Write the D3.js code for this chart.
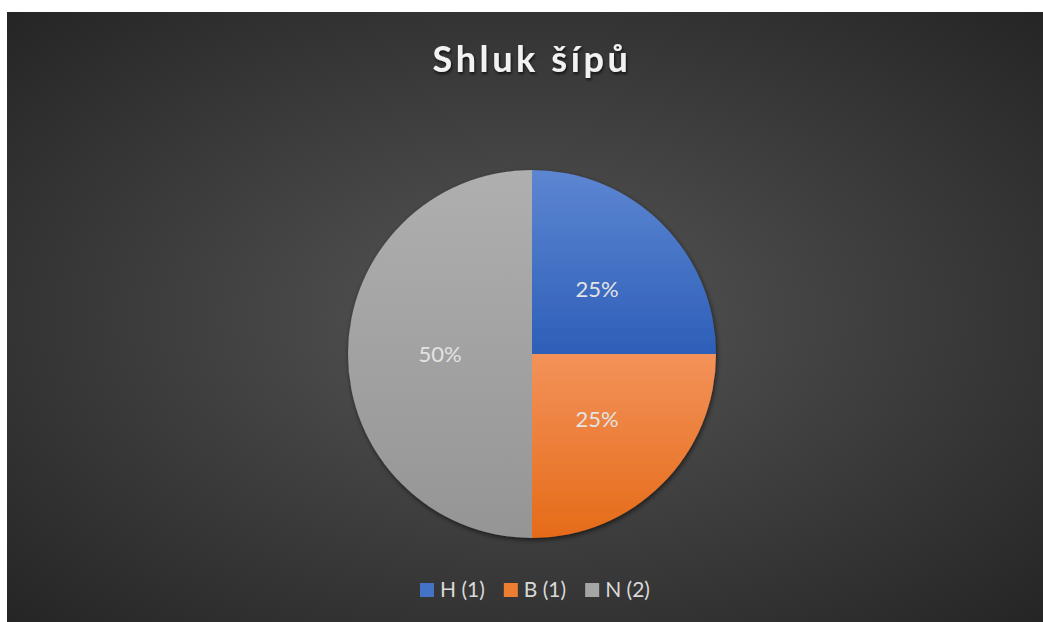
<!DOCTYPE html>
<html>
<head>
<meta charset="utf-8">
<script src="https://cdn.jsdelivr.net/npm/d3@7"></script>
<style>
  html, body { margin: 0; padding: 0; background: #fff; }
  svg { display: block; }
</style>
</head>
<body>
<div id="chart"></div>
<script>
// data
var categories = ['H', 'B', 'N'];
var counts = [1, 1, 2];
var legendLabels = ['H (1)', 'B (1)', 'N (2)'];
var chartTitle = 'Shluk šípů';

var width = 1043, height = 622;
var frame = {x: 7, y: 12, w: 1036, h: 610};
var cx = 532, cy = 354, radius = 184;
var font = 'Lato, "Open Sans", sans-serif';

// top/bottom colours for each slice gradient
var sliceColors = {
  H: ['#5d86d2', '#2d5fb8'],
  B: ['#f3925a', '#e56b18'],
  N: ['#afafaf', '#959595']
};
var legendColors = {H: '#4472c4', B: '#ed7d31', N: '#a5a5a5'};

var svg = d3.select('#chart').append('svg')
  .attr('width', width)
  .attr('height', height);

var defs = svg.append('defs');

var bg = defs.append('radialGradient')
  .attr('id', 'bg')
  .attr('cx', '0.5').attr('cy', '0.5').attr('r', '0.72');
bg.append('stop').attr('offset', '0').attr('stop-color', '#565656');
bg.append('stop').attr('offset', '1').attr('stop-color', '#242424');

var shadow = defs.append('filter').attr('id', 'shadow')
  .attr('x', '-20%').attr('y', '-20%').attr('width', '140%').attr('height', '140%');
shadow.append('feDropShadow')
  .attr('dx', 1).attr('dy', 2).attr('stdDeviation', 2.5)
  .attr('flood-color', '#000').attr('flood-opacity', 0.6);

var titleShadow = defs.append('filter').attr('id', 'tshadow');
titleShadow.append('feDropShadow')
  .attr('dx', 1).attr('dy', 2).attr('stdDeviation', 1.5)
  .attr('flood-color', '#000').attr('flood-opacity', 0.7);

svg.append('rect')
  .attr('x', frame.x).attr('y', frame.y)
  .attr('width', frame.w).attr('height', frame.h)
  .attr('fill', 'url(#bg)');

svg.append('text')
  .attr('x', cx)
  .attr('y', 72)
  .attr('text-anchor', 'middle')
  .attr('fill', '#f2f2f2')
  .attr('font-family', font)
  .attr('font-weight', 'bold')
  .attr('font-size', 36)
  .attr('letter-spacing', 3.6)
  .attr('filter', 'url(#tshadow)')
  .text(chartTitle);

var pieData = d3.pie().sort(null)(counts);

var arc = d3.arc().innerRadius(0).outerRadius(radius);

var g = svg.append('g')
  .attr('transform', 'translate(' + cx + ',' + cy + ')');

// gradient per slice over its own bounding box
pieData.forEach(function (d, i) {
  var c = sliceColors[categories[i]];
  var grad = defs.append('linearGradient')
    .attr('id', 'slice' + i)
    .attr('x1', 0).attr('y1', 0).attr('x2', 0).attr('y2', 1);
  grad.append('stop').attr('offset', '0').attr('stop-color', c[0]);
  grad.append('stop').attr('offset', '1').attr('stop-color', c[1]);
});

var slices = g.append('g').attr('filter', 'url(#shadow)');
slices.selectAll('path')
  .data(pieData)
  .enter().append('path')
  .attr('d', arc)
  .attr('fill', function (d, i) { return 'url(#slice' + i + ')'; });

var total = d3.sum(counts);
var labelArc = d3.arc().innerRadius(radius * 0.5).outerRadius(radius * 0.5);

g.selectAll('text.lbl')
  .data(pieData)
  .enter().append('text')
  .attr('class', 'lbl')
  .attr('transform', function (d) { return 'translate(' + labelArc.centroid(d) + ')'; })
  .attr('dy', '0.35em')
  .attr('text-anchor', 'middle')
  .attr('fill', '#e3e3e3')
  .attr('font-family', font)
  .attr('font-size', 22)
  .text(function (d) { return Math.round(d.value / total * 100) + '%'; });

// legend
var legend = svg.append('g').attr('transform', 'translate(420,583)');
var xPos = 0;
legendLabels.forEach(function (lab, i) {
  var item = legend.append('g').attr('transform', 'translate(' + xPos + ',0)');
  item.append('rect')
    .attr('width', 14).attr('height', 14)
    .attr('fill', legendColors[categories[i]]);
  var t = item.append('text')
    .attr('x', 20).attr('y', 14)
    .attr('fill', '#d9d9d9')
    .attr('font-family', font)
    .attr('font-size', 21)
    .text(lab);
  xPos += 20 + t.node().getComputedTextLength() + 19;
});
</script>
</body>
</html>
